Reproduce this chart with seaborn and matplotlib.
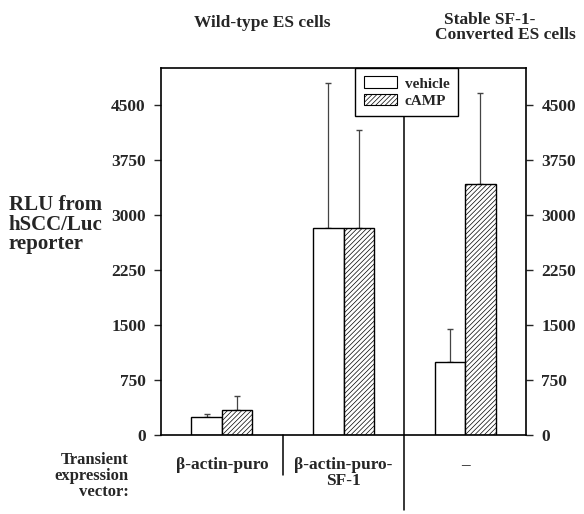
import matplotlib
matplotlib.use("Agg")
import matplotlib.pyplot as plt
import matplotlib.patches as mpatches
import matplotlib.transforms as mtransforms
import seaborn as sns
import pandas as pd

# ---- data ----
vectors = ["β-actin-puro", "β-actin-puro-\nSF-1", "–"]
treatments = ["vehicle", "cAMP"]
vehicle_mean = [242, 2825, 1000]
camp_mean = [341, 2825, 3415]
vehicle_err = [50, 1970, 448]
camp_err = [196, 1330, 1240]
yticks = [0, 750, 1500, 2250, 3000, 3750, 4500]

df = pd.DataFrame({
    "vector": vectors * 2,
    "treatment": [treatments[0]] * 3 + [treatments[1]] * 3,
    "rlu": vehicle_mean + camp_mean,
})
errs = {treatments[0]: vehicle_err, treatments[1]: camp_err}

sns.set_theme(style="ticks")
plt.rcParams["font.family"] = ["Liberation Serif", "DejaVu Serif"]
plt.rcParams["font.weight"] = "bold"
plt.rcParams["hatch.linewidth"] = 0.5
plt.rcParams["hatch.color"] = "black"

fig = plt.figure(figsize=(5.84, 5.14), dpi=100)
ax = fig.add_axes([0.2757, 0.1537, 0.625, 0.714])

sns.barplot(data=df, x="vector", y="rlu", hue="treatment", order=vectors,
            hue_order=treatments, palette=["white", "white"], width=0.5,
            edgecolor="black", linewidth=1.0, errorbar=None, ax=ax,
            legend=False)

hatches = ["", "///////"]
for cont, tr, h in zip(ax.containers, treatments, hatches):
    for bar, e in zip(cont, errs[tr]):
        bar.set_hatch(h)
        bar.set_zorder(2)
        x = bar.get_x() + bar.get_width() / 2
        y = bar.get_height()
        ax.errorbar([x], [y], yerr=[[0], [e]], fmt="none", ecolor="#444444",
                    elinewidth=0.9, capsize=2.5, capthick=1.0, zorder=1)

ax.set_ylim(0, 5000)
ax.set_xlim(-0.5, 2.5)
ax.set_yticks(yticks)
ax.set_yticklabels([str(t) for t in yticks], fontweight="bold")
ax.tick_params(axis="y", left=True, right=True, labelleft=True, labelright=True,
               direction="out", length=5, width=1, pad=6, labelsize=12.5)
for lab in ax.yaxis.get_ticklabels(which="both"):
    lab.set_fontweight("bold")
ax.tick_params(axis="x", length=0, pad=16)
ax.set_xticks(range(len(vectors)))
ax.set_xticklabels(vectors, fontweight="bold", fontsize=12.5, linespacing=1.0)
ax.set_xlabel("")
ax.set_ylabel("")
for s in ax.spines.values():
    s.set_visible(True)
    s.set_linewidth(1.2)
    s.set_color("black")

# divider lines
trans = mtransforms.blended_transform_factory(ax.transData, ax.transAxes)
ax.plot([1.5, 1.5], [0.866, -0.205], transform=trans, color="black", lw=1.1,
        clip_on=False, zorder=3)
ax.plot([0.5, 0.5], [0.0, -0.11], transform=trans, color="black", lw=1.1,
        clip_on=False, zorder=3)

# legend
handles = [mpatches.Patch(facecolor="white", edgecolor="black", hatch=h, lw=0.8)
           for h in hatches]
leg = ax.legend(handles, treatments, loc="upper left", bbox_to_anchor=(0.532, 1.0),
                borderaxespad=0.0,
                frameon=True, fancybox=False, framealpha=1, edgecolor="black",
                borderpad=0.55, handlelength=2.2, handleheight=0.8, handletextpad=0.5,
                labelspacing=0.2, prop={"weight": "bold", "size": 11})
leg.get_frame().set_linewidth(1.0)

# y label
fig.text(0.015, 0.563, "RLU from\nhSCC/Luc\nreporter", ha="left", va="center",
         fontsize=15, fontweight="bold", linespacing=0.98)

# titles
fig.text(0.449, 0.955, "Wild-type ES cells", ha="center", va="center",
         fontsize=12.5, fontweight="bold")
fig.text(0.838, 0.962, "Stable SF-1-", ha="center", va="center",
         fontsize=12.5, fontweight="bold")
fig.text(0.865, 0.932, "Converted ES cells", ha="center", va="center",
         fontsize=12.5, fontweight="bold")

# bottom-left label
fig.text(0.22, 0.074, "Transient\nexpression\nvector:", ha="right", va="center",
         fontsize=12, fontweight="bold", multialignment="right", linespacing=1.0)

fig.savefig("out.png", dpi=100)
